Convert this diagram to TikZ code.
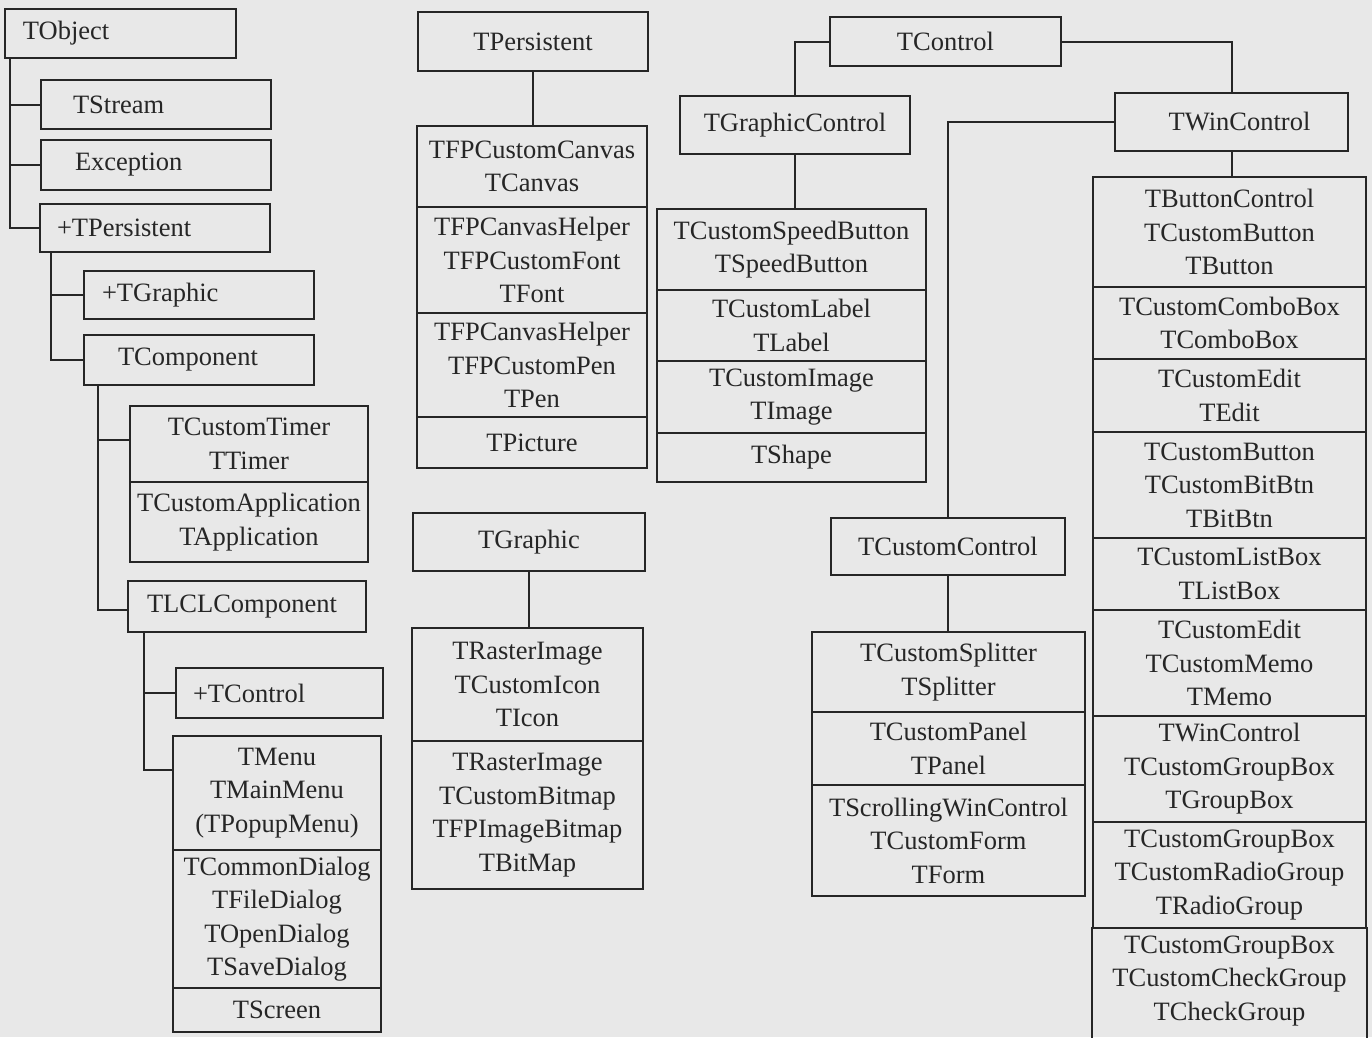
\documentclass[tikz,border=0pt]{standalone}
\usepackage{fontspec}
\setmainfont{Liberation Serif}
\definecolor{paper}{RGB}{232,232,232}
\definecolor{ink}{RGB}{38,38,38}
\tikzset{
  cls/.style={draw=ink, line width=2pt, text=ink, inner ysep=0pt,
    font=\fontsize{26.5}{33.5}\selectfont},
  link/.style={draw=ink, line width=2pt}
}
% #1 options, #2 name, #3 x1, #4 y1, #5 x2, #6 y2, #7 side padding, #8 text
\newcommand{\clsbox}[8][align=center]{%
  \pgfmathsetmacro\bw{#5-#3}%
  \pgfmathsetmacro\bh{#6-#4}%
  \pgfmathsetmacro\bx{(#3+#5)/2}%
  \pgfmathsetmacro\by{(#4+#6)/2}%
  \pgfmathsetmacro\tw{#5-#3-2*#7}%
  \node[cls,#1,inner xsep=#7pt,minimum width=\bw pt,minimum height=\bh pt,
        text width=\tw pt] (#2) at (\bx,\by) {#8};}
\begin{document}
\begin{tikzpicture}[x=1pt,y=-1pt]
\useasboundingbox (0,0) rectangle (1372,1037);
\clip (0,0) rectangle (1372,1037);
\fill[paper] (0,0) rectangle (1372,1037);

% ---------- left column ----------
\clsbox[align=left]{tobject}{5}{9}{236}{58}{18}{TObject}
\clsbox[align=left]{tstream}{41}{80}{271}{129}{32}{TStream}
\clsbox[align=left]{exception}{41}{140}{271}{190}{34}{Exception}
\clsbox[align=left]{tpersA}{40}{204}{270}{252}{17}{+TPersistent}
\clsbox[align=left]{tgraphA}{84}{271}{314}{319}{18}{+TGraphic}
\clsbox[align=left]{tcomp}{84}{335}{314}{385}{34}{TComponent}
\clsbox{ttimer}{130}{406}{368}{482}{3}{TCustomTimer\\TTimer}
\clsbox{tapp}{130}{482}{368}{562}{3}{TCustomApplication\\TApplication}
\clsbox[align=left]{tlcl}{128}{581}{366}{632}{19}{TLCLComponent}
\clsbox[align=left]{tctrlA}{176}{668}{383}{718}{17}{+TControl}
\clsbox{tmenu}{173}{736}{381}{850}{3}{TMenu\\TMainMenu\\(TPopupMenu)}
\clsbox{tdialog}{173}{850}{381}{988}{3}{TCommonDialog\\TFileDialog\\TOpenDialog\\TSaveDialog}
\clsbox{tscreen}{173}{988}{381}{1032}{3}{TScreen}

\coordinate (ta) at ([xshift=6pt]tobject.south west);
\draw[link] (ta) |- (tstream.west);
\draw[link] (ta) |- (exception.west);
\draw[link] (ta) |- (tpersA.west);
\coordinate (tb) at ([xshift=12pt]tpersA.south west);
\draw[link] (tb) |- (tgraphA.west);
\draw[link] (tb) |- (tcomp.west);
\coordinate (tc) at ([xshift=15pt]tcomp.south west);
\draw[link] (tc) |- ([yshift=4pt]ttimer.west);
\draw[link] (tc) |- ([yshift=-3pt]tlcl.west);
\coordinate (td) at ([xshift=17pt]tlcl.south west);
\draw[link] (td) |- (tctrlA.west);
\draw[link] (td) |- ([yshift=-35pt]tmenu.north west);

% ---------- second column ----------
\clsbox{tpersB}{418}{12}{648}{71}{3}{TPersistent}
\clsbox{tcanvas}{417}{126}{647}{207}{3}{TFPCustomCanvas\\TCanvas}
\clsbox{tfont}{417}{207}{647}{313}{3}{TFPCanvasHelper\\TFPCustomFont\\TFont}
\clsbox{tpen}{417}{313}{647}{417}{3}{TFPCanvasHelper\\TFPCustomPen\\TPen}
\clsbox{tpicture}{417}{417}{647}{468}{3}{TPicture}
\draw[link] (tpersB.south) -- (tpersB.south |- tcanvas.north);

\clsbox{tgraphB}{413}{513}{645}{571}{3}{TGraphic}
\clsbox{ticon}{412}{628}{643}{741}{3}{TRasterImage\\TCustomIcon\\TIcon}
\clsbox{tbitmap}{412}{741}{643}{889}{3}{TRasterImage\\TCustomBitmap\\TFPImageBitmap\\TBitMap}
\draw[link] (tgraphB.south) -- (tgraphB.south |- ticon.north);

% ---------- third column ----------
\clsbox{tctrlB}{830}{17}{1061}{66}{3}{TControl}
\clsbox{tgc}{680}{96}{910}{154}{3}{TGraphicControl}
\clsbox{tspeed}{657}{209}{926}{290}{2}{TCustomSpeedButton\\TSpeedButton}
\clsbox{tlabel}{657}{290}{926}{361}{3}{TCustomLabel\\TLabel}
\clsbox{timage}{657}{361}{926}{433}{3}{TCustomImage\\TImage}
\clsbox{tshape}{657}{433}{926}{482}{3}{TShape}
\draw[link] (tctrlB.west) -| (tgc.north);
\draw[link] (tgc.south) -- (tgc.south |- tspeed.north);

\clsbox{tcc}{831}{518}{1065}{575}{3}{TCustomControl}
\clsbox{tsplit}{812}{632}{1085}{712}{3}{TCustomSplitter\\TSplitter}
\clsbox{tpanel}{812}{712}{1085}{785}{3}{TCustomPanel\\TPanel}
\clsbox{tform}{812}{785}{1085}{896}{2}{TScrollingWinControl\\TCustomForm\\TForm}
\draw[link] (tcc.south) -- (tcc.south |- tsplit.north);

% ---------- right column ----------
\clsbox{twc}{1115}{93}{1348}{151}{3}{\hspace*{16pt}TWinControl}
\draw[link] (tctrlB.east) -| (twc.north);
\draw[link] (twc.west) -| (tcc.north);
\clsbox{tbutton}{1093}{177}{1366}{287}{3}{TButtonControl\\TCustomButton\\TButton}
\clsbox{tcombo}{1093}{287}{1366}{359}{3}{TCustomComboBox\\TComboBox}
\clsbox{tedit}{1093}{359}{1366}{432}{3}{TCustomEdit\\TEdit}
\clsbox{tbitbtn}{1093}{432}{1366}{538}{3}{TCustomButton\\TCustomBitBtn\\TBitBtn}
\clsbox{tlistbox}{1093}{538}{1366}{610}{3}{TCustomListBox\\TListBox}
\clsbox{tmemo}{1093}{610}{1366}{716}{3}{TCustomEdit\\TCustomMemo\\TMemo}
\clsbox{tgroupbox}{1093}{716}{1366}{822}{3}{TWinControl\\TCustomGroupBox\\TGroupBox}
\clsbox{tradio}{1093}{822}{1366}{928}{3}{TCustomGroupBox\\TCustomRadioGroup\\TRadioGroup}
\clsbox[align=center,draw=none]{tcheck}{1093}{928}{1366}{1034}{3}{TCustomGroupBox\\TCustomCheckGroup\\TCheckGroup}
\draw[link] (tcheck.north west) -- ([yshift=-40pt]tcheck.south west);
\draw[link] (tcheck.north east) -- ([yshift=-40pt]tcheck.south east);
\draw[link] (twc.south) -- (twc.south |- tbutton.north);
\end{tikzpicture}
\end{document}
